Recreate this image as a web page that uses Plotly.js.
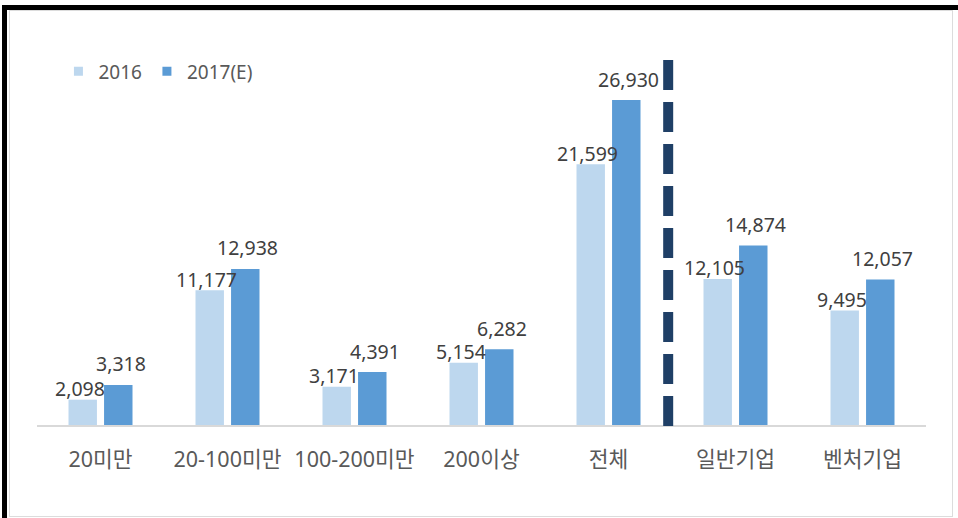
<!DOCTYPE html>
<html>
<head>
<meta charset="utf-8">
<script src="https://cdn.plot.ly/plotly-3.0.1.min.js"></script>
<style>
  html, body { margin: 0; padding: 0; background: #fff; }
  #wrap { position: relative; width: 958px; height: 518px; overflow: hidden; }
  #chart { position: absolute; left: 0; top: 0; width: 958px; height: 518px; }
  #outer { position: absolute; left: 2px; top: 5px; width: 960px; height: 520px;
           border-left: 5px solid #000; border-top: 5px solid #000; pointer-events: none; }
  #inner { position: absolute; left: 9px; top: 10px; width: 942px; height: 505px;
           border: 1px solid #dcdcdc; pointer-events: none; }
</style>
</head>
<body>
<div id="wrap">
  <div id="chart"></div>
  <div id="inner"></div>
  <div id="outer"></div>
</div>
<script>
const categories = ['20미만', '20-100미만', '100-200미만', '200이상', '전체', '일반기업', '벤처기업'];
const values2016 = [2098, 11177, 3171, 5154, 21599, 12105, 9495];
const values2017 = [3318, 12938, 4391, 6282, 26930, 14874, 12057];
const seriesNames = ['2016', '2017(E)'];

const colLight = '#BDD7EE';
const colDark = '#5B9BD5';
const fontFam = 'Noto Sans, Noto Sans CJK KR, sans-serif';

const fmt = v => v.toLocaleString('en-US');

const traces = [
  { type: 'bar', x: categories, y: values2016, name: seriesNames[0], marker: { color: colLight }, showlegend: false, hoverinfo: 'skip' },
  { type: 'bar', x: categories, y: values2017, name: seriesNames[1], marker: { color: colDark }, showlegend: false, hoverinfo: 'skip' },
  { type: 'scatter', mode: 'markers', x: [null], y: [null], name: seriesNames[0], marker: { symbol: 'square', size: 9, color: colLight } },
  { type: 'scatter', mode: 'markers', x: [null], y: [null], name: seriesNames[1], marker: { symbol: 'square', size: 9, color: colDark } }
];

const annotations = [];
categories.forEach((c, i) => {
  annotations.push({ x: c, y: values2016[i], xref: 'x', yref: 'y', text: fmt(values2016[i]),
    showarrow: false, xshift: -21, yshift: 11, yanchor: 'middle',
    font: { family: fontFam, size: 19.5, color: '#404040' } });
  annotations.push({ x: c, y: values2017[i], xref: 'x', yref: 'y', text: fmt(values2017[i]),
    showarrow: false, xshift: 20, yshift: 21, yanchor: 'middle',
    font: { family: fontFam, size: 19.5, color: '#404040' } });
});

const layout = {
  width: 958, height: 518,
  margin: { l: 37, r: 32, t: 63, b: 93, autoexpand: false },
  paper_bgcolor: 'rgba(0,0,0,0)', plot_bgcolor: 'rgba(0,0,0,0)',
  barmode: 'group', bargap: 0.44, bargroupgap: 0.2,
  font: { family: fontFam, color: '#595959' },
  xaxis: {
    type: 'category', showgrid: false, zeroline: false,
    showline: true, linecolor: '#d9d9d9', linewidth: 1.5,
    ticks: '', ticklabelstandoff: 15,
    tickfont: { family: fontFam, size: 21.5, color: '#595959' }
  },
  yaxis: { range: [0, 30000], visible: false, showgrid: false, zeroline: false },
  showlegend: true,
  legend: {
    orientation: 'h', xref: 'container', yref: 'container',
    x: 0.061, y: 0.862, xanchor: 'left', yanchor: 'middle',
    font: { family: fontFam, size: 19, color: '#595959' },
    bgcolor: 'rgba(0,0,0,0)', itemclick: false, itemdoubleclick: false
  },
  annotations: annotations,
  shapes: [{
    type: 'line', xref: 'x', yref: 'paper', x0: 4.47, x1: 4.47, y0: 1.008, y1: -0.022,
    line: { color: '#1F3F66', width: 10, dash: '30px,12px' }
  }]
};

Plotly.newPlot('chart', traces, layout, { displayModeBar: false, staticPlot: true });
</script>
</body>
</html>
